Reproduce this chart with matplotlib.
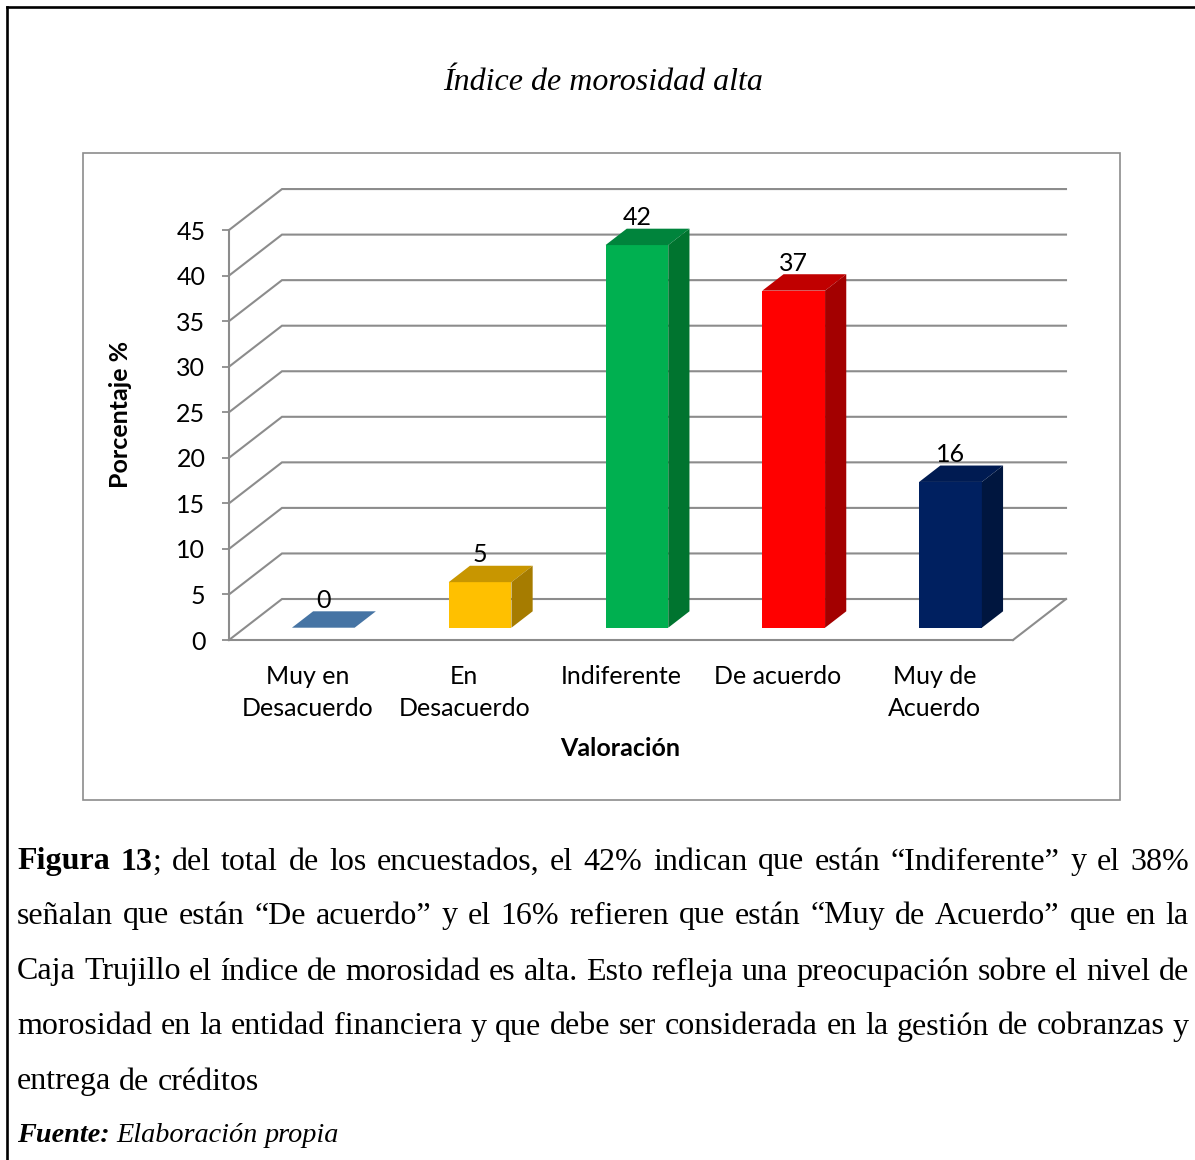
import matplotlib
matplotlib.use("Agg")
import matplotlib.pyplot as plt
from matplotlib.patches import Polygon, Rectangle
from matplotlib.lines import Line2D

# ---- data -------------------------------------------------------------
categories = ["Muy en\nDesacuerdo", "En\nDesacuerdo", "Indiferente", "De acuerdo", "Muy de\nAcuerdo"]
values = [0, 5, 42, 37, 16]
y_ticks = [0, 5, 10, 15, 20, 25, 30, 35, 40, 45]

front_colors = ["#4674A4", "#FFC000", "#00B050", "#FF0000", "#002060"]
top_colors = ["#4674A4", "#C89600", "#00843C", "#C00000", "#001B52"]
side_colors = ["#3A608A", "#A67C00", "#00742F", "#A30000", "#00163F"]

title = "Índice de morosidad alta"
x_label = "Valoración"
y_label = "Porcentaje %"

caption_lines = [
    [[("Figura", "b")], [("13", "b"), (";", "n")], "del", "total", "de", "los", "encuestados,", "el",
     "42%", "indican", "que", "están", "“Indiferente”", "y", "el", "38%"],
    "señalan que están “De acuerdo” y el 16% refieren que están “Muy de Acuerdo” que en la".split(),
    "Caja Trujillo el índice de morosidad es alta. Esto refleja una preocupación sobre el nivel de".split(),
    "morosidad en la entidad financiera y que debe ser considerada en la gestión de cobranzas y".split(),
    "entrega de créditos".split(),
]
source_label = "Fuente:"
source_text = "Elaboración propia"

# ---- layout -----------------------------------------------------------
W, H = 1195, 1160
BOX = (83, 153, 1120, 800)          # chart frame: left, top, right, bottom (px)
ORIGIN = (229, 640)                 # front-left corner of the floor (px)
CAT_PX, UNIT_PX = 156.8, 9.11       # px per category / per percent
DX, DY = 0.338, 4.5                 # depth offset in data units
BAR_W, T0, T1 = 0.4, 0.3, 0.7       # bar width, front/back depth fraction
GRID = "#8c8c8c"
SANS = "Lato"
SERIF = "Liberation Serif"
CHART_FS = 18

fig = plt.figure(figsize=(W / 100, H / 100), dpi=100)
fig.patch.set_facecolor("white")


def fx(px):
    return px / W


def fy(py):
    return 1 - py / H


# page border (left and top edges of the surrounding frame)
fig.add_artist(Line2D([fx(7), fx(7)], [fy(7), fy(H + 5)], color="black", lw=1.9))
fig.add_artist(Line2D([fx(7), fx(W + 5)], [fy(7), fy(7)], color="black", lw=1.9))

# chart frame
fig.add_artist(Rectangle((fx(BOX[0]), fy(BOX[3])), fx(BOX[2]) - fx(BOX[0]), fy(BOX[1]) - fy(BOX[3]),
                         transform=fig.transFigure, fill=False, edgecolor=GRID, lw=1.2))

fig.text(fx(603), fy(82), title, family=SERIF, style="italic", fontsize=23, ha="center", va="center")

ax = fig.add_axes([fx(BOX[0]), fy(BOX[3]), fx(BOX[2]) - fx(BOX[0]), fy(BOX[1]) - fy(BOX[3])])
ax.set_facecolor("none")
ax.set_xlim((BOX[0] - ORIGIN[0]) / CAT_PX, (BOX[2] - ORIGIN[0]) / CAT_PX)
ax.set_ylim((ORIGIN[1] - BOX[3]) / UNIT_PX, (ORIGIN[1] - BOX[1]) / UNIT_PX)

n = len(categories)
for s in ("top", "right"):
    ax.spines[s].set_visible(False)
ax.spines["left"].set_position(("data", 0))
ax.spines["left"].set_bounds(y_ticks[0], y_ticks[-1])
ax.spines["bottom"].set_position(("data", 0))
ax.spines["bottom"].set_bounds(0, n)
for s in ("left", "bottom"):
    ax.spines[s].set_color(GRID)
    ax.spines[s].set_linewidth(1.5)

ax.set_yticks(y_ticks)
ax.set_yticklabels([str(t) for t in y_ticks], family=SANS, fontsize=CHART_FS)
ax.tick_params(axis="y", direction="out", length=5, width=1.3, color=GRID, pad=12)
centers = [i + 0.5 for i in range(n)]
ax.set_xticks(centers)
ax.set_xticklabels(categories, family=SANS, fontsize=CHART_FS, linespacing=1.5)
ax.tick_params(axis="x", length=0, pad=18)

# back wall gridlines with their diagonal on the side wall
for v in y_ticks:
    ax.plot([0, DX, n + DX], [v, v + DY, v + DY], color=GRID, lw=1.5, zorder=1, solid_joinstyle="miter")
# right edge of the floor
ax.plot([n, n + DX], [0, DY], color=GRID, lw=1.5, zorder=1)

# 3D columns: front face, top face, right side face
b0, b1 = T0 * DY, T1 * DY
ddx = (T1 - T0) * DX
fronts = [c + T0 * DX for c in centers]
ax.bar(fronts, values, width=BAR_W, bottom=b0, color=front_colors, zorder=3, linewidth=0)
for i, v in enumerate(values):
    xl = fronts[i] - BAR_W / 2
    xr = fronts[i] + BAR_W / 2
    ax.add_patch(Polygon([(xl, v + b0), (xr, v + b0), (xr + ddx, v + b1), (xl + ddx, v + b1)],
                         closed=True, facecolor=top_colors[i], edgecolor="none", zorder=3))
    if v > 0:
        ax.add_patch(Polygon([(xr, b0), (xr, v + b0), (xr + ddx, v + b1), (xr + ddx, b1)],
                             closed=True, facecolor=side_colors[i], edgecolor="none", zorder=3))
    ax.text(fronts[i], v + b1 + 1.2, str(v), family=SANS, fontsize=CHART_FS,
            ha="center", va="center", zorder=4)

ax.text((120 - BOX[0]) / (BOX[2] - BOX[0]), (BOX[3] - 414) / (BOX[3] - BOX[1]), y_label,
        transform=ax.transAxes, rotation=90, family=SANS, fontweight="bold", fontsize=CHART_FS,
        ha="center", va="center")
ax.text((620 - BOX[0]) / (BOX[2] - BOX[0]), (BOX[3] - 749) / (BOX[3] - BOX[1]), x_label,
        transform=ax.transAxes, family=SANS, fontweight="bold", fontsize=CHART_FS,
        ha="center", va="center")

# ---- caption paragraph (justified) -----------------------------------
CAP_FS = 23
renderer = fig.canvas.get_renderer()
STYLES = {"n": {}, "b": {"fontweight": "bold"}, "i": {"style": "italic"},
          "bi": {"fontweight": "bold", "style": "italic"}}


def place_line(words, y_px, x_left, x_right, justify, default="n", size=CAP_FS):
    groups = []
    total = 0.0
    for w in words:
        runs = [(w, default)] if isinstance(w, str) else w
        items = []
        for s, st in runs:
            t = fig.text(0, fy(y_px), s, family=SERIF, fontsize=size, ha="left", va="center",
                         **STYLES[st])
            wd = t.get_window_extent(renderer).width
            items.append((t, wd))
            total += wd
        groups.append(items)
    if justify and len(groups) > 1:
        gap = (x_right - x_left - total) / (len(groups) - 1)
    else:
        gap = size * 100 / 72 * 0.25
    x = x_left
    for items in groups:
        for t, wd in items:
            t.set_x(fx(x))
            x += wd
        x += gap


line_y = [862, 916, 972, 1027, 1082]
for k, words in enumerate(caption_lines):
    place_line(words, line_y[k], 17, 1189, justify=(k < len(caption_lines) - 1))
place_line([[(source_label, "bi")]] + source_text.split(), 1135, 17, 1189, justify=False,
           default="i", size=20.3)

fig.savefig("out.png", dpi=100, facecolor="white")
